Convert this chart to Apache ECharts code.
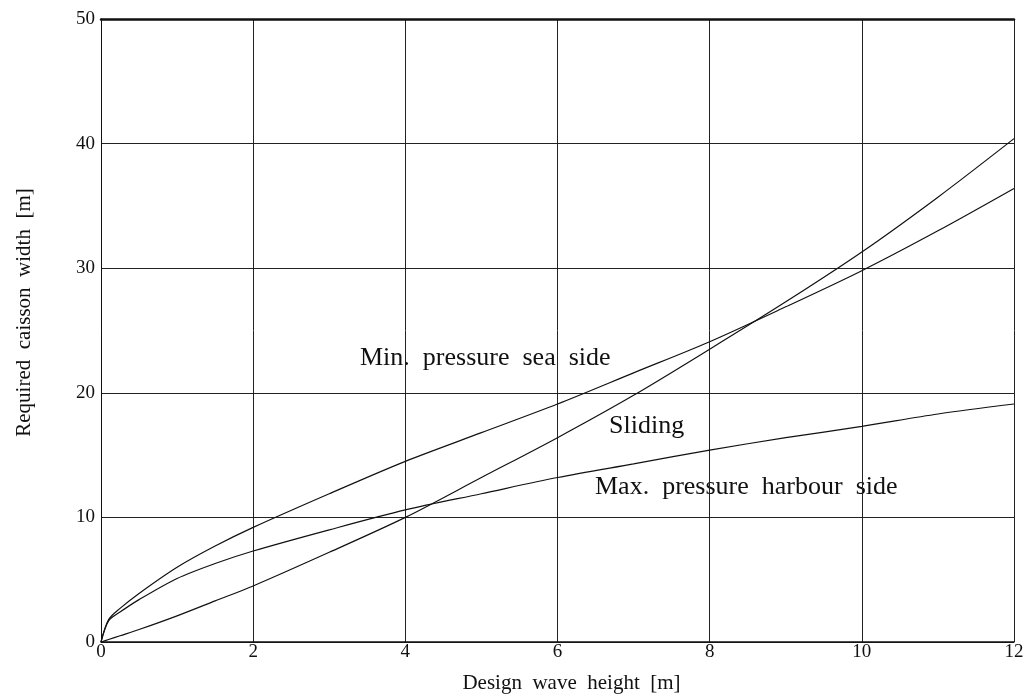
<!DOCTYPE html>
<html>
<head>
<meta charset="utf-8">
<script src="https://cdn.jsdelivr.net/npm/echarts@6/dist/echarts.min.js"></script>
<style>
html,body{margin:0;padding:0;background:#fff;}
#chart{width:1035px;height:699px;}
</style>
</head>
<body>
<div id="chart"></div>
<script>
// Data
var waveHeight = [0, 0.1, 0.25, 0.5, 1, 1.5, 2, 3, 4, 5, 6, 7, 8, 9, 10, 11, 12];
var minPressureSea = [0, 1.8, 2.7, 3.9, 6.0, 7.7, 9.2, 11.9, 14.5, 16.8, 19.1, 21.6, 24.1, 26.9, 29.8, 33.0, 36.4];
var maxPressureHarbour = [0, 1.7, 2.4, 3.4, 5.1, 6.3, 7.3, 9.0, 10.6, 11.9, 13.2, 14.3, 15.4, 16.4, 17.3, 18.3, 19.1];
var sliding = [0, 0.2, 0.5, 1.0, 2.1, 3.3, 4.5, 7.2, 10.0, 13.2, 16.4, 19.8, 23.5, 27.3, 31.3, 35.7, 40.4];
var xTicks = [0, 2, 4, 6, 8, 10, 12];
var yTicks = [0, 10, 20, 30, 40, 50];
var seriesNames = ['Min.  pressure  sea  side', 'Sliding', 'Max.  pressure  harbour  side'];
var xTitle = 'Design  wave  height  [m]';
var yTitle = 'Required  caisson  width  [m]';

function pairs(ys) { return waveHeight.map(function (x, i) { return [x, ys[i]]; }); }

var FONT = 'Liberation Serif';
var chart = echarts.init(document.getElementById('chart'));
var lineStyle = { color: '#111', width: 1.2 };

chart.setOption({
  animation: false,
  backgroundColor: '#fff',
  grid: { left: 101, right: 21, top: 19, bottom: 55 },
  xAxis: [{
    type: 'value', min: 0, max: 12, interval: 2,
    name: xTitle, nameLocation: 'middle', nameGap: 31,
    nameTextStyle: { fontFamily: FONT, fontSize: 21, color: '#111', padding: [0, 0, 0, 28] },
    axisLine: { lineStyle: { color: '#111', width: 1.5 } },
    axisTick: { show: false },
    axisLabel: { margin: 1, fontFamily: FONT, fontSize: 19, color: '#111' },
    splitLine: { show: true, lineStyle: { color: '#222', width: 1 } }
  }, {
    type: 'value', min: 0, max: 12, position: 'top',
    axisLine: { lineStyle: { color: '#111', width: 2.5 } },
    axisTick: { show: false }, axisLabel: { show: false }, splitLine: { show: false }
  }],
  yAxis: {
    type: 'value', min: 0, max: 50, interval: 10,
    name: yTitle, nameLocation: 'middle', nameGap: 66,
    nameTextStyle: { fontFamily: FONT, fontSize: 21, color: '#111', padding: [0, 0, 0, 36] },
    axisLine: { show: true, lineStyle: { color: '#111', width: 1 } },
    axisTick: { show: false },
    axisLabel: { margin: 6, fontFamily: FONT, fontSize: 19, color: '#111' },
    splitLine: { show: true, lineStyle: { color: '#222', width: 1 } }
  },
  series: [
    { name: seriesNames[0], type: 'line', data: pairs(minPressureSea), showSymbol: false, smooth: 0.3, lineStyle: lineStyle },
    { name: seriesNames[1], type: 'line', data: pairs(sliding), showSymbol: false, smooth: 0.3, lineStyle: lineStyle },
    { name: seriesNames[2], type: 'line', data: pairs(maxPressureHarbour), showSymbol: false, smooth: 0.3, lineStyle: lineStyle }
  ],
  graphic: [
    { type: 'text', left: 360, top: 345, style: { text: seriesNames[0], font: '26px "Liberation Serif"', fill: '#111' } },
    { type: 'text', left: 609, top: 413, style: { text: seriesNames[1], font: '26px "Liberation Serif"', fill: '#111' } },
    { type: 'text', left: 595, top: 474, style: { text: seriesNames[2], font: '26px "Liberation Serif"', fill: '#111' } }
  ]
});
</script>
</body>
</html>
